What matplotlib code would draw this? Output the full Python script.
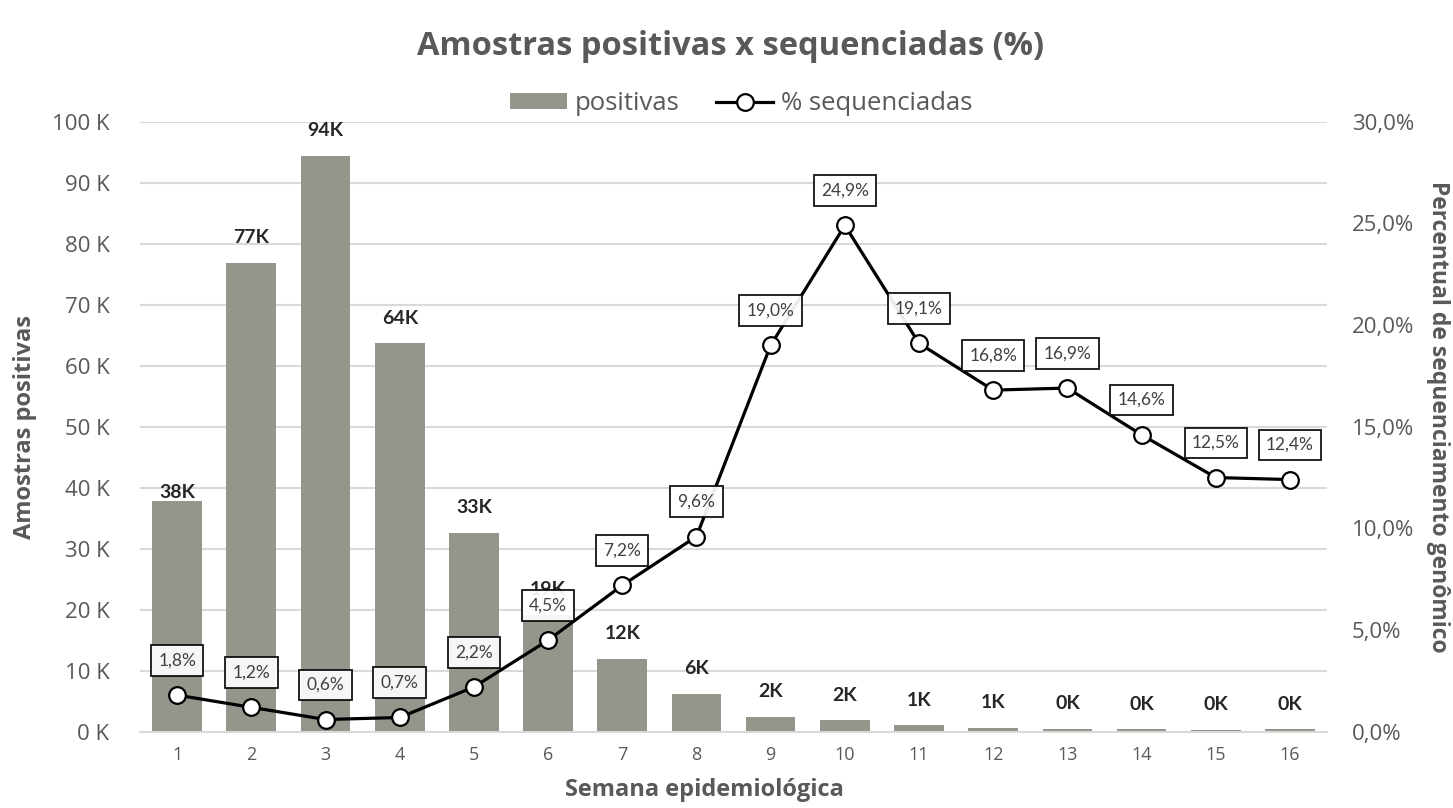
import matplotlib
matplotlib.use("Agg")
import matplotlib.pyplot as plt
from matplotlib.ticker import FuncFormatter, MultipleLocator
from matplotlib.lines import Line2D
from matplotlib.patches import Patch

weeks = list(range(1, 17))
positivas = [37800, 76900, 94400, 63700, 32600, 19200, 12000, 6200,
             2450, 1870, 1050, 650, 450, 400, 350, 400]
pct_seq = [1.8, 1.2, 0.6, 0.7, 2.2, 4.5, 7.2, 9.6,
           19.0, 24.9, 19.1, 16.8, 16.9, 14.6, 12.5, 12.4]

title = "Amostras positivas x sequenciadas (%)"
xlabel = "Semana epidemiológica"
ylabel_left = "Amostras positivas"
ylabel_right = "Percentual de sequenciamento genômico"

BAR = "#95958b"
TXT = "#595959"
GRID = "#d9d9d9"
F_MAIN = "Open Sans"
F_DATA = "Lato"

fig = plt.figure(figsize=(14.53, 8.08), dpi=100)
ax = fig.add_axes([0.0964, 0.0944, 0.8169, 0.755])
ax2 = ax.twinx()

ax.bar(weeks, positivas, width=0.67, color=BAR, zorder=2)
ax.set_xlim(0.5, 16.5)
ax.set_ylim(0, 100000)
ax.yaxis.set_major_locator(MultipleLocator(10000))
ax.yaxis.set_major_formatter(FuncFormatter(lambda v, p: f"{v/1000:.0f} K"))
ax.grid(axis="y", color=GRID, linewidth=1.5, zorder=0)
ax.set_axisbelow(True)
for s in ["top", "right", "left"]:
    ax.spines[s].set_visible(False)
ax.spines["bottom"].set_color(GRID)
ax.spines["bottom"].set_linewidth(1.5)
ax.tick_params(axis="y", length=0, pad=22, labelsize=16, labelcolor=TXT)
ax.tick_params(axis="x", length=0, pad=10, labelsize=13, labelcolor=TXT)
ax.set_xticks(weeks)
for lab in ax.get_yticklabels():
    lab.set_family(F_MAIN)
for lab in ax.get_xticklabels():
    lab.set_family(F_MAIN)

for i, (w, v) in enumerate(zip(weeks, positivas)):
    off = 6 if i == 0 else 18
    ax.annotate(f"{round(v/1000):.0f}K", (w, v), xytext=(0, off),
                textcoords="offset points", ha="center", va="center",
                fontsize=14, fontweight="bold", color="#262626",
                family=F_DATA, zorder=3)

ax2.set_ylim(0, 30)
ax2.yaxis.set_major_locator(MultipleLocator(5))
ax2.yaxis.set_major_formatter(FuncFormatter(lambda v, p: f"{v:.1f}".replace(".", ",") + "%"))
for s in ["top", "right", "left", "bottom"]:
    ax2.spines[s].set_visible(False)
ax2.tick_params(axis="y", length=0, pad=18, labelsize=16, labelcolor=TXT)
for lab in ax2.get_yticklabels():
    lab.set_family(F_MAIN)

ax2.plot(weeks, pct_seq, color="black", linewidth=2.3, marker="o",
         markersize=12, markerfacecolor="white", markeredgecolor="black",
         markeredgewidth=1.6, zorder=4)
for w, v in zip(weeks, pct_seq):
    ax2.annotate(f"{v:.1f}".replace(".", ",") + "%", (w, v), xytext=(0, 25),
                 textcoords="offset points", ha="center", va="center",
                 fontsize=12.5, color="#404040", family=F_DATA, zorder=5,
                 bbox=dict(boxstyle="square,pad=0.42", facecolor="white",
                           alpha=0.92, edgecolor="black", linewidth=1.3))

fig.text(0.503, 0.942, title, ha="center", va="center", fontsize=23.5,
         fontweight="bold", color=TXT, family=F_MAIN)
fig.text(0.485, 0.022, xlabel, ha="center", va="center", fontsize=17,
         fontweight="bold", color=TXT, family=F_MAIN)
fig.text(0.017, 0.471, ylabel_left, ha="center", va="center", fontsize=17,
         fontweight="bold", color=TXT, family=F_MAIN, rotation=90)
fig.text(0.99, 0.484, ylabel_right, ha="center", va="center", fontsize=16.5,
         fontweight="bold", color=TXT, family=F_MAIN, rotation=270)

handles = [Patch(facecolor=BAR, edgecolor="none"),
           Line2D([0], [0], color="black", linewidth=2.3, marker="o",
                  markersize=12, markerfacecolor="white",
                  markeredgecolor="black", markeredgewidth=1.6)]
leg = fig.legend(handles, ["positivas", "% sequenciadas"], loc="center",
                 bbox_to_anchor=(0.51, 0.872), ncol=2, frameon=False,
                 handlelength=2.2, handleheight=0.55,
                 columnspacing=1.45, handletextpad=0.3,
                 prop={"family": F_MAIN, "size": 18.5})
for t in leg.get_texts():
    t.set_color(TXT)

fig.savefig("out.png", dpi=100)
